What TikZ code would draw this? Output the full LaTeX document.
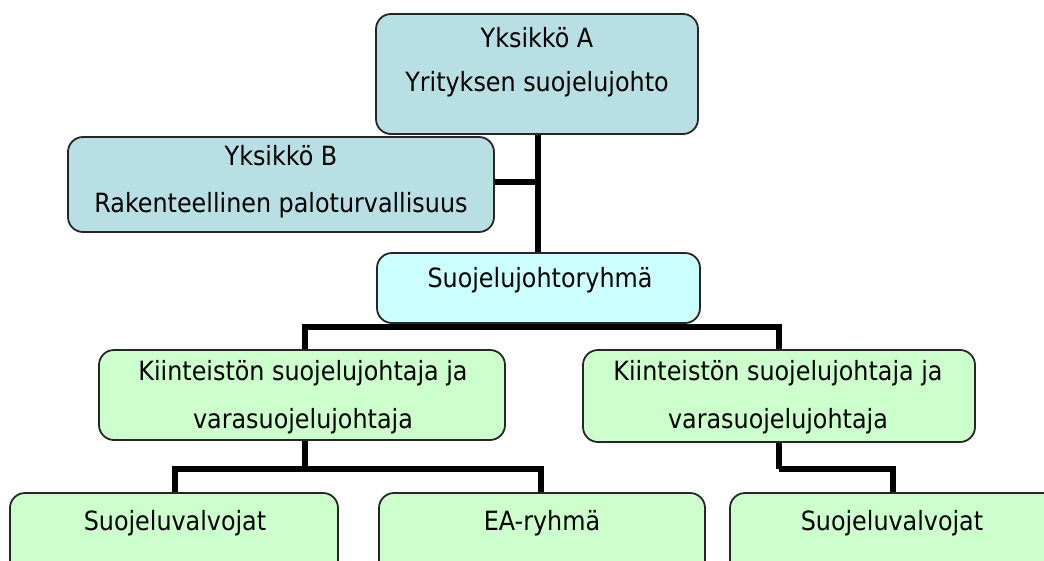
\documentclass[tikz,border=0pt]{standalone}
\usepackage{fontspec}
\setmainfont{DejaVu Sans Condensed}
\definecolor{unitblue}{HTML}{B8DFE3}
\definecolor{groupcyan}{HTML}{CCFFFF}
\definecolor{leafgreen}{HTML}{CCFFCC}
\begin{document}
\begin{tikzpicture}[x=1pt,y=-1pt,
  box/.style={draw=black!85,line width=1.8pt,rounded corners=15pt,inner sep=0pt},
  txt/.style={anchor=base,inner sep=0pt,font=\fontsize{26.5}{30}\selectfont},
  conn/.style={line width=5.5pt,black}]
\useasboundingbox (0,0) rectangle (1044,560);
\clip (0,0) rectangle (1044,560);
% boxes
\node[box,fill=unitblue,minimum width=322pt,minimum height=120pt] (A) at (537,74) {};
\node[box,fill=unitblue,minimum width=426pt,minimum height=95pt] (B) at (281,184.5) {};
\node[box,fill=groupcyan,minimum width=323pt,minimum height=70pt] (R) at (538.5,288) {};
\node[box,fill=leafgreen,minimum width=406pt,minimum height=90pt] (K1) at (302,395) {};
\node[box,fill=leafgreen,minimum width=392pt,minimum height=92pt] (K2) at (779,396) {};
\node[box,fill=leafgreen,minimum width=328pt,minimum height=100pt] (S1) at (174,543) {};
\node[box,fill=leafgreen,minimum width=326pt,minimum height=100pt] (EA) at (542,543) {};
\node[box,fill=leafgreen,minimum width=340pt,minimum height=100pt] (S2) at (900,543) {};
% texts
\node[txt] (tA1) at (537,47) {Yksikkö A};
\node[txt] (tA2) at (537,91) {Yrityksen suojelujohto};
\node[txt] (tB1) at (281,165) {Yksikkö B};
\node[txt] (tB2) at (281,212) {Rakenteellinen paloturvallisuus};
\node[txt] (tR) at (540,287) {Suojelujohtoryhmä};
\node[txt] (tK11) at (303,380) {Kiinteistön suojelujohtaja ja};
\node[txt] (tK12) at (303,428) {varasuojelujohtaja};
\node[txt] (tK21) at (778,380) {Kiinteistön suojelujohtaja ja};
\node[txt] (tK22) at (778,428) {varasuojelujohtaja};
\node[txt] (tS1) at (175,530) {Suojeluvalvojat};
\node[txt] (tEA) at (542,530) {EA-ryhmä};
\node[txt] (tS2) at (892,530) {Suojeluvalvojat};
% bus coordinates
\coordinate (bus1) at (538,327);
\coordinate (bus2) at (305,469);
\coordinate (bus3) at (779,469);
% connectors
\draw[conn] (A.south -| bus1) -- (R.north -| bus1);
\draw[conn] (B.east |- 0,182) -- (bus1 |- 0,182);
\draw[conn] (R.south -| bus1) -- (bus1);
\draw[conn] (K1.north -| bus2) |- (bus1) -| (K2.north -| bus3);
\draw[conn] (K1.south -| bus2) -- (bus2);
\draw[conn] (S1.north -| 175,0) |- (bus2) -| (EA.north -| 541,0);
\draw[conn] (K2.south -| bus3) -- (bus3);
\draw[conn] (bus3) -| (S2.north -| 893,0);
\end{tikzpicture}
\end{document}
